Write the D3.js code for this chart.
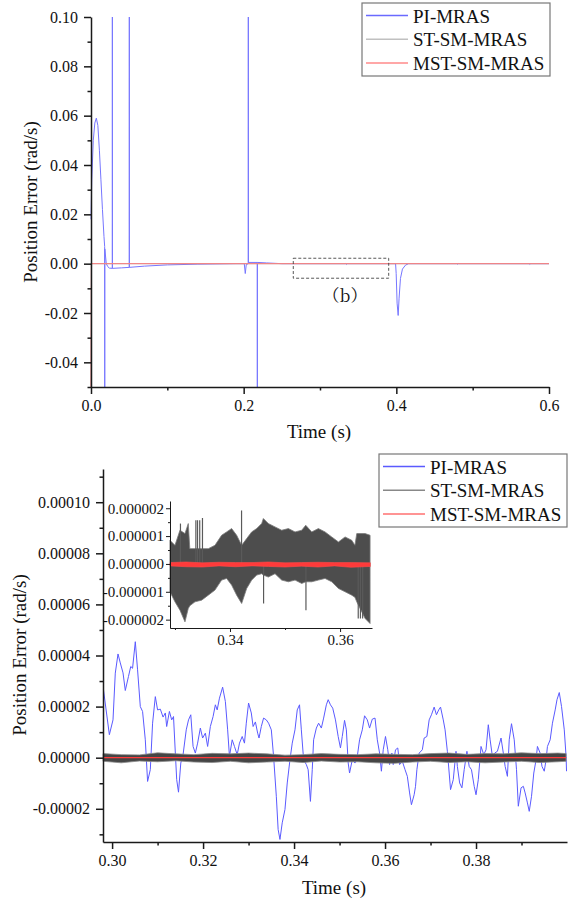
<!DOCTYPE html>
<html>
<head>
<meta charset="utf-8">
<script src="https://cdn.jsdelivr.net/npm/d3@7"></script>
<style>
  body { margin: 0; background: #fff; }
  svg text { font-family: "Liberation Serif", "Times New Roman", serif; fill: #111; }
  .tick text { font-size: 16px; }
  .inset .tick text { font-size: 15px; }
  .title { font-size: 19px; }
  .legend text { font-size: 19px; }
</style>
</head>
<body>
<svg id="chart" width="571" height="903"></svg>
<script>
// ---------- data ----------
const seriesNames = ["PI-MRAS", "ST-SM-MRAS", "MST-SM-MRAS"];

// (a) full run, 0 - 0.6 s, [time, error]
const piTop = [
  [0, 0.018], [0.001, 0.034], [0.003, 0.050], [0.005, 0.057], [0.007, 0.059],
  [0.009, 0.056], [0.011, 0.046], [0.013, 0.034], [0.015, 0.022], [0.017, 0.011],
  [0.0179, 0.007], [0.018, -0.05], [0.0181, 0.006], [0.020, 0.0], [0.022, -0.0012],
  [0.024, -0.0018], [0.0279, -0.0019], [0.028, 0.10], [0.0281, -0.0019],
  [0.040, -0.0017], [0.0501, -0.0015], [0.0502, 0.10], [0.0503, -0.0015],
  [0.070, -0.0010], [0.100, -0.0005], [0.140, -0.0002], [0.190, 0.0],
  [0.2008, 0.0], [0.2021, -0.0040], [0.2034, -0.0004], [0.2060, 0.0],
  [0.2061, 0.10], [0.2062, 0.0005], [0.2178, 0.0005], [0.2179, -0.05],
  [0.2180, 0.0005], [0.230, 0.0003], [0.250, 0.0], [0.334, 0.0], [0.335, -0.0003],
  [0.336, 0.0], [0.399, 0.0], [0.3998, -0.004], [0.4010, -0.016], [0.4024, -0.021],
  [0.4036, -0.014], [0.4054, -0.006], [0.4080, -0.0022], [0.4120, -0.0006],
  [0.416, 0.0], [0.479, 0.0], [0.480, -0.0002], [0.481, 0.0], [0.574, 0.0],
  [0.575, -0.0003], [0.576, 0.0], [0.6, 0.0]
];
const stTop = [[0, -0.05], [0.0005, 0.0], [0.6, 0.0]];
const mstTop = [[0, -0.05], [0.0005, 0.0], [0.6, 0.0]];
const topXMajor = [0, 0.2, 0.4, 0.6];
const topXMinor = [0.1, 0.3, 0.5];
const topYMajor = [-0.04, -0.02, 0, 0.02, 0.04, 0.06, 0.08, 0.10];
const topYMinor = [-0.05, -0.03, -0.01, 0.01, 0.03, 0.05, 0.07, 0.09];
const zoomBox = { t: [0.265, 0.390], v: [-0.0059, 0.0022] };
const zoomLabel = { text: "（b）", t: 0.3328, v: -0.0156 };

// (b) detail, 0.298 - 0.4 s
const piDetail = [
  [0.2981, 26.6e-6], [0.2994, 9.0e-6], [0.3002, 14.8e-6], [0.3007, 33.1e-6], [0.3013, 40.6e-6],
  [0.3018, 37.1e-6], [0.3024, 33.2e-6], [0.3029, 26.3e-6], [0.3036, 31.8e-6], [0.3041, 35.7e-6],
  [0.3045, 35.0e-6], [0.3051, 45.4e-6], [0.3056, 34.4e-6], [0.3062, 20.0e-6], [0.3067, 18.1e-6],
  [0.3073, 7.0e-6], [0.3078, -9.3e-6], [0.3084, -4.7e-6], [0.3089, 13.5e-6], [0.3095, 23.9e-6],
  [0.3100, 18.7e-6], [0.3106, 19.0e-6], [0.3112, 15.9e-6], [0.3117, 17.5e-6], [0.3120, 12.2e-6],
  [0.3126, 18.1e-6], [0.3131, 14.8e-6], [0.3135, 16.1e-6], [0.3139, 1.8e-6], [0.3142, -8.6e-6],
  [0.3146, -13.5e-6], [0.3151, -2.1e-6], [0.3156, 1.2e-6], [0.3163, 10.9e-6], [0.3168, 14.8e-6],
  [0.3173, 16.8e-6], [0.3178, 4.4e-6], [0.3183, 1.8e-6], [0.3188, 5.7e-6], [0.3194, 11.6e-6],
  [0.3199, 7.7e-6], [0.3205, 9.6e-6], [0.3210, 4.4e-6], [0.3216, 12.2e-6], [0.3222, 16.1e-6],
  [0.3227, 20.7e-6], [0.3231, 18.7e-6], [0.3236, 23.3e-6], [0.3243, 27.6e-6], [0.3249, 22.0e-6],
  [0.3254, 10.9e-6], [0.3258, 0.5e-6], [0.3264, 7.0e-6], [0.3269, 4.4e-6], [0.3275, 1.2e-6],
  [0.3280, 5.7e-6], [0.3286, 8.3e-6], [0.3291, 5.7e-6], [0.3295, 13.5e-6], [0.3300, 21.4e-6],
  [0.3306, 17.5e-6], [0.3310, 12.2e-6], [0.3315, 14.0e-6], [0.3320, 9.6e-6], [0.3323, 7.7e-6],
  [0.3328, 12.2e-6], [0.3333, 15.5e-6], [0.3339, 14.8e-6], [0.3344, 13.5e-6], [0.3350, 10.9e-6],
  [0.3355, 0.5e-6], [0.3361, -15.1e-6], [0.3365, -28.1e-6], [0.3369, -32.0e-6], [0.3374, -25.5e-6],
  [0.3380, -20.3e-6], [0.3385, -9.9e-6], [0.3391, -0.8e-6], [0.3396, 5.7e-6], [0.3402, 10.9e-6],
  [0.3407, 18.7e-6], [0.3412, 20.7e-6], [0.3416, 10.9e-6], [0.3421, -0.8e-6], [0.3427, -2.7e-6],
  [0.3431, -4.7e-6], [0.3436, -17.1e-6], [0.3440, -4.7e-6], [0.3443, 7.0e-6], [0.3449, 11.6e-6],
  [0.3454, 13.5e-6], [0.3460, 11.6e-6], [0.3465, 15.5e-6], [0.3471, 20.7e-6], [0.3475, 22.7e-6],
  [0.3480, 20.7e-6], [0.3485, 19.4e-6], [0.3491, 14.8e-6], [0.3497, 8.3e-6], [0.3502, 3.8e-6],
  [0.3506, 8.3e-6], [0.3511, 14.6e-6], [0.3515, 10.9e-6], [0.3519, -2.1e-6], [0.3522, -6.0e-6],
  [0.3528, -0.8e-6], [0.3534, -2.1e-6], [0.3539, 0.5e-6], [0.3544, 7.0e-6], [0.3550, 10.9e-6],
  [0.3555, 16.4e-6], [0.3561, 14.8e-6], [0.3566, 11.6e-6], [0.3572, 15.1e-6], [0.3578, 15.5e-6],
  [0.3583, 7.0e-6], [0.3588, 1.8e-6], [0.3592, -5.3e-6], [0.3596, 3.1e-6], [0.3601, 8.3e-6],
  [0.3606, 3.1e-6], [0.3610, -2.7e-6], [0.3615, 1.8e-6], [0.3618, -2.7e-6], [0.3623, 3.1e-6],
  [0.3628, 3.8e-6], [0.3632, -2.7e-6], [0.3638, -1.4e-6], [0.3644, -4.7e-6], [0.3649, -7.3e-6],
  [0.3654, -13.8e-6], [0.3658, -18.4e-6], [0.3664, -14.5e-6], [0.3667, -11.2e-6], [0.3670, -4.7e-6],
  [0.3675, 1.8e-6], [0.3682, 3.1e-6], [0.3686, 7.7e-6], [0.3692, 8.3e-6], [0.3697, 14.8e-6],
  [0.3702, 16.8e-6], [0.3708, 19.8e-6], [0.3713, 16.8e-6], [0.3718, 18.7e-6], [0.3722, 19.8e-6],
  [0.3728, 14.8e-6], [0.3732, 10.9e-6], [0.3737, 2.5e-6], [0.3741, -6.0e-6], [0.3744, -12.5e-6],
  [0.3750, -8.6e-6], [0.3756, 2.5e-6], [0.3759, -3.4e-6], [0.3764, -9.9e-6], [0.3769, -11.8e-6],
  [0.3774, -4.7e-6], [0.3780, 2.5e-6], [0.3785, -3.4e-6], [0.3790, -4.7e-6], [0.3796, -11.2e-6],
  [0.3800, -14.5e-6], [0.3805, -8.6e-6], [0.3811, 4.4e-6], [0.3817, 1.2e-6], [0.3822, 3.1e-6],
  [0.3827, 12.9e-6], [0.3831, 7.0e-6], [0.3836, 0.5e-6], [0.3841, 1.8e-6], [0.3847, 2.5e-6],
  [0.3855, 7.7e-6], [0.3860, 1.8e-6], [0.3864, -3.4e-6], [0.3869, -7.3e-6], [0.3873, 7.0e-6],
  [0.3878, 13.3e-6], [0.3884, 7.0e-6], [0.3889, -4.7e-6], [0.3893, -19.0e-6], [0.3899, -11.8e-6],
  [0.3904, -11.2e-6], [0.3908, -13.8e-6], [0.3913, -17.7e-6], [0.3917, -21.0e-6], [0.3922, -15.1e-6],
  [0.3927, -6.0e-6], [0.3932, -0.8e-6], [0.3935, 4.4e-6], [0.3941, 1.8e-6], [0.3945, -3.4e-6],
  [0.3950, -5.3e-6], [0.3954, -0.8e-6], [0.3957, 4.4e-6], [0.3963, 7.0e-6], [0.3968, 13.5e-6],
  [0.3974, 18.7e-6], [0.3978, 22.7e-6], [0.3983, 25.5e-6], [0.3988, 20.0e-6], [0.3994, 10.9e-6],
  [0.3998, 0.5e-6], [0.3999, -5.3e-6]
];
// ST-SM band envelope in the detail view: [time, upper, lower]
const stDetailBand = [
  [0.298, 1.6e-6, -1.4e-6], [0.302, 1.2e-6, -2.0e-6], [0.306, 1.1e-6, -1.3e-6], [0.310, 1.9e-6, -1.6e-6],
  [0.314, 1.5e-6, -1.2e-6], [0.318, 1.2e-6, -1.7e-6], [0.322, 1.7e-6, -1.9e-6], [0.326, 1.5e-6, -1.4e-6],
  [0.330, 1.8e-6, -2.0e-6], [0.334, 1.5e-6, -1.7e-6], [0.338, 1.0e-6, -1.4e-6], [0.342, 1.2e-6, -1.9e-6],
  [0.346, 1.6e-6, -1.3e-6], [0.350, 1.3e-6, -1.7e-6], [0.354, 1.2e-6, -1.6e-6], [0.358, 1.5e-6, -2.0e-6],
  [0.362, 1.3e-6, -2.2e-6], [0.366, 1.2e-6, -1.7e-6], [0.370, 1.6e-6, -1.4e-6], [0.374, 1.8e-6, -1.9e-6],
  [0.378, 1.3e-6, -1.6e-6], [0.382, 1.6e-6, -2.0e-6], [0.386, 1.5e-6, -1.7e-6], [0.390, 1.9e-6, -1.4e-6],
  [0.394, 1.6e-6, -1.9e-6], [0.398, 1.8e-6, -1.6e-6], [0.3998, 1.6e-6, -1.4e-6]
];
const mstDetail = [[0.298, 0], [0.3998, 0]];
const botXMajor = [0.30, 0.32, 0.34, 0.36, 0.38];
const botXMinor = [0.31, 0.33, 0.35, 0.37, 0.39];
const botYMajor = [-0.00002, 0, 0.00002, 0.00004, 0.00006, 0.00008, 0.00010];
const botYMinor = [-0.00003, -0.00001, 0.00001, 0.00003, 0.00005, 0.00007, 0.00009, 0.00011];

// inset, 0.329 - 0.366 s
const stInsetBand = [
  [0.32909, 0.85e-6, -1.00e-6], [0.33000, 0.67e-6, -1.36e-6], [0.33091, 1.21e-6, -1.66e-6],
  [0.33182, 1.09e-6, -2.08e-6], [0.33242, 1.45e-6, -1.60e-6], [0.33270, 0.55e-6, -1.50e-6],
  [0.33364, 0.55e-6, -1.36e-6], [0.33485, 0.55e-6, -1.30e-6], [0.33606, 0.55e-6, -1.12e-6],
  [0.33727, 0.67e-6, -0.94e-6], [0.33848, 1.03e-6, -0.58e-6], [0.33939, 1.15e-6, -0.52e-6],
  [0.34030, 1.27e-6, -0.76e-6], [0.34121, 1.03e-6, -1.12e-6], [0.34212, 0.67e-6, -1.42e-6],
  [0.34303, 0.91e-6, -0.88e-6], [0.34394, 1.15e-6, -0.58e-6], [0.34485, 1.27e-6, -0.40e-6],
  [0.34576, 1.45e-6, -0.35e-6], [0.34606, 1.63e-6, -0.40e-6], [0.34697, 1.45e-6, -0.47e-6],
  [0.34818, 1.33e-6, -0.35e-6], [0.34939, 1.21e-6, -0.58e-6], [0.35061, 1.27e-6, -0.64e-6],
  [0.35182, 1.15e-6, -0.58e-6], [0.35303, 1.21e-6, -0.70e-6], [0.35376, 1.39e-6, -0.64e-6],
  [0.35485, 1.15e-6, -0.64e-6], [0.35606, 1.27e-6, -0.58e-6], [0.35727, 1.15e-6, -0.52e-6],
  [0.35848, 0.97e-6, -0.64e-6], [0.35970, 0.79e-6, -0.88e-6], [0.36091, 0.97e-6, -1.00e-6],
  [0.36212, 0.85e-6, -1.12e-6], [0.36270, 0.67e-6, -1.20e-6], [0.36303, 1.09e-6, -1.36e-6],
  [0.36455, 1.09e-6, -1.96e-6], [0.36545, 1.03e-6, -2.14e-6]
];
const stInsetSpikes = [
  [0.3310, 1.45e-6], [0.3338, 1.57e-6], [0.3341, 1.57e-6], [0.3345, 1.57e-6], [0.3350, 1.65e-6],
  [0.3421, 1.92e-6], [0.3461, -1.42e-6], [0.3538, -1.66e-6], [0.3633, -1.96e-6], [0.3637, -1.96e-6],
  [0.3641, -1.96e-6]
];
const mstInsetBand = [
  [0.3291, 0.05e-6, -0.07e-6], [0.332, 0.07e-6, -0.10e-6], [0.335, 0.04e-6, -0.11e-6],
  [0.338, 0.06e-6, -0.07e-6], [0.341, 0.05e-6, -0.10e-6], [0.344, 0.05e-6, -0.07e-6],
  [0.347, 0.07e-6, -0.09e-6], [0.350, 0.04e-6, -0.11e-6], [0.353, 0.05e-6, -0.08e-6],
  [0.356, 0.06e-6, -0.11e-6], [0.359, 0.05e-6, -0.07e-6], [0.362, 0.05e-6, -0.12e-6],
  [0.3655, 0.04e-6, -0.09e-6]
];
const insetXMajor = [0.34, 0.36];
const insetXMinor = [0.33, 0.35];
const insetYMajor = [-0.000002, -0.000001, 0, 0.000001, 0.000002];
const insetYMinor = [-0.0000015, -0.0000005, 0.0000005, 0.0000015];

// ---------- drawing ----------
const svg = d3.select("#chart");
const serif = "'Liberation Serif', 'Times New Roman', serif";

function drawAxes(g, x, y, o) {
  const bottom = y.range()[0], left = x.range()[0];
  // minor ticks
  g.append("g").attr("transform", `translate(0,${bottom})`)
    .call(d3.axisBottom(x).tickValues(o.xMinor).tickSize(o.minor).tickFormat(""))
    .call(a => a.select(".domain").remove());
  g.append("g").attr("transform", `translate(${left},0)`)
    .call(d3.axisLeft(y).tickValues(o.yMinor).tickSize(o.minor).tickFormat(""))
    .call(a => a.select(".domain").remove());
  // major ticks with labels
  g.append("g").attr("transform", `translate(0,${bottom})`)
    .call(d3.axisBottom(x).tickValues(o.xMajor).tickSize(o.major).tickSizeOuter(0)
      .tickPadding(o.pad).tickFormat(o.xFmt));
  g.append("g").attr("transform", `translate(${left},0)`)
    .call(d3.axisLeft(y).tickValues(o.yMajor).tickSize(o.major).tickSizeOuter(0)
      .tickPadding(o.pad).tickFormat(o.yFmt));
  g.selectAll(".domain, .tick line").attr("stroke", "#1a1a1a").attr("stroke-width", o.sw);
  g.selectAll(".tick text").style("font-family", serif).style("font-size", o.fs + "px").attr("fill", "#111");
}

function drawLegend(x0, y0, colors) {
  const lg = svg.append("g").attr("class", "legend").attr("transform", `translate(${x0},${y0})`);
  lg.append("rect").attr("width", 188).attr("height", 73)
    .attr("fill", "#fff").attr("stroke", "#777").attr("stroke-width", 1.2);
  seriesNames.forEach((name, i) => {
    const cy = 12.5 + i * 23.8;
    lg.append("line").attr("x1", 4).attr("x2", 46).attr("y1", cy).attr("y2", cy)
      .attr("stroke", colors[i]).attr("stroke-width", 1.5);
    lg.append("text").attr("x", 51).attr("y", cy + 7).style("font-family", serif).text(name);
  });
}

// ---- top chart ----
const xTop = d3.scaleLinear().domain([0, 0.6]).range([91, 549]);
const yTop = d3.scaleLinear().domain([-0.05, 0.10]).range([387, 17]);
const lineTop = d3.line().x(d => xTop(d[0])).y(d => yTop(d[1]));

const gTop = svg.append("g");
gTop.append("path").datum(piTop).attr("fill", "none").attr("stroke", "#7676ff").attr("stroke-width", 1).attr("d", lineTop);
gTop.append("path").datum(stTop).attr("fill", "none").attr("stroke", "#9a9a9a").attr("stroke-width", 1).attr("d", lineTop);
gTop.append("path").datum(mstTop).attr("fill", "none").attr("stroke", "#ff8080").attr("stroke-width", 1).attr("d", lineTop);

gTop.append("rect")
  .attr("x", xTop(zoomBox.t[0])).attr("y", yTop(zoomBox.v[1]))
  .attr("width", xTop(zoomBox.t[1]) - xTop(zoomBox.t[0]))
  .attr("height", yTop(zoomBox.v[0]) - yTop(zoomBox.v[1]))
  .attr("fill", "none").attr("stroke", "#444").attr("stroke-width", 0.9).attr("stroke-dasharray", "3,2");
gTop.append("text").attr("x", xTop(zoomLabel.t)).attr("y", yTop(zoomLabel.v))
  .attr("text-anchor", "middle").style("font-size", "17px")
  .style("font-family", "'Noto Serif CJK SC', 'Noto Sans CJK SC', serif").text(zoomLabel.text);

drawAxes(gTop, xTop, yTop, {
  xMajor: topXMajor, xMinor: topXMinor, yMajor: topYMajor, yMinor: topYMinor,
  xFmt: d => d.toFixed(1), yFmt: d => d.toFixed(2), major: 7, minor: 3.5, pad: 6, sw: 1.5, fs: 16
});
gTop.append("text").attr("class", "title").attr("x", 319).attr("y", 438).attr("text-anchor", "middle").text("Time (s)");
gTop.append("text").attr("class", "title").attr("text-anchor", "middle")
  .attr("transform", "translate(37,202) rotate(-90)").text("Position Error (rad/s)");
drawLegend(362, 3, ["#6a6aff", "#c0c0c0", "#ff8a8a"]);

// ---- bottom chart ----
const xBot = d3.scaleLinear().domain([0.298, 0.4]).range([103, 567]);
const yBot = d3.scaleLinear().domain([-0.000033, 0.000113]).range([842, 469]);
const lineBot = d3.line().x(d => xBot(d[0])).y(d => yBot(d[1]));
const bandBot = d3.area().x(d => xBot(d[0])).y0(d => yBot(d[2])).y1(d => yBot(d[1]));

const gBot = svg.append("g");
gBot.append("path").datum(piDetail).attr("fill", "none").attr("stroke", "#5a5aff").attr("stroke-width", 1).attr("d", lineBot);
gBot.append("path").datum(stDetailBand).attr("fill", "#454545").attr("stroke", "#8a8a8a").attr("stroke-width", 0.8).attr("d", bandBot);
gBot.append("path").datum(mstDetail).attr("fill", "none").attr("stroke", "#ff3c3c").attr("stroke-width", 1.2).attr("d", lineBot);

drawAxes(gBot, xBot, yBot, {
  xMajor: botXMajor, xMinor: botXMinor, yMajor: botYMajor, yMinor: botYMinor,
  xFmt: d => d.toFixed(2), yFmt: d => d.toFixed(5), major: 7, minor: 3.5, pad: 6, sw: 1.5, fs: 16
});
gBot.append("text").attr("class", "title").attr("x", 334).attr("y", 894).attr("text-anchor", "middle").text("Time (s)");
gBot.append("text").attr("class", "title").attr("text-anchor", "middle")
  .attr("transform", "translate(26,655) rotate(-90)").text("Position Error (rad/s)");
drawLegend(379, 454, ["#5a5aff", "#888888", "#ff7070"]);

// ---- inset ----
const xIn = d3.scaleLinear().domain([0.3291, 0.3658]).range([170, 372]);
const yIn = d3.scaleLinear().domain([-0.0000023, 0.00000226]).range([628, 501]);
const bandIn = d3.area().x(d => xIn(d[0])).y0(d => yIn(d[2])).y1(d => yIn(d[1]));

const gIn = svg.append("g").attr("class", "inset");
gIn.append("path").datum(stInsetBand).attr("fill", "#4d4d4d").attr("stroke", "#7a7a7a").attr("stroke-width", 0.8).attr("d", bandIn);
gIn.selectAll("line.spike").data(stInsetSpikes).join("line").attr("class", "spike")
  .attr("x1", d => xIn(d[0])).attr("x2", d => xIn(d[0]))
  .attr("y1", yIn(0)).attr("y2", d => yIn(d[1]))
  .attr("stroke", "#5a5a5a").attr("stroke-width", 1.2);
gIn.append("path").datum(mstInsetBand).attr("fill", "#ff3a3a").attr("stroke", "#ff4a4a").attr("stroke-width", 0.6).attr("d", bandIn);

drawAxes(gIn, xIn, yIn, {
  xMajor: insetXMajor, xMinor: insetXMinor, yMajor: insetYMajor, yMinor: insetYMinor,
  xFmt: d => d.toFixed(2), yFmt: d => d.toFixed(6), major: 4, minor: 2, pad: 2, sw: 1, fs: 15
});
</script>
</body>
</html>
